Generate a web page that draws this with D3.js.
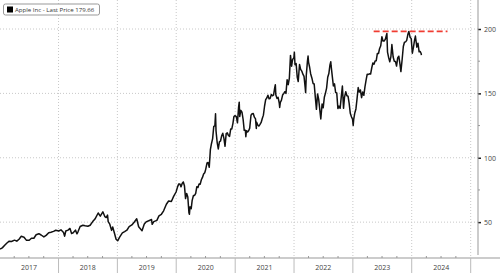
<!DOCTYPE html>
<html>
<head>
<meta charset="utf-8">
<script src="https://cdn.jsdelivr.net/npm/d3@7"></script>
<style>
  body { margin: 0; background: #fff; }
  svg { display: block; font-family: "Open Sans", sans-serif; }
</style>
</head>
<body>
<script>
// Data (split-adjusted closes)
const dates = [
  "2017-01-03","2017-01-17","2017-02-01","2017-02-15","2017-03-01","2017-03-15","2017-04-03","2017-04-17","2017-05-01","2017-05-15","2017-06-01","2017-06-15","2017-07-03","2017-07-17","2017-08-01","2017-08-15","2017-09-01","2017-09-15","2017-10-02","2017-10-16","2017-11-01","2017-11-15","2017-12-01","2017-12-15",
  "2018-01-02","2018-01-16","2018-02-01","2018-02-08","2018-02-15","2018-03-01","2018-03-13","2018-03-23","2018-04-02","2018-04-16","2018-04-25","2018-05-01","2018-05-15","2018-06-01","2018-06-15","2018-07-02","2018-07-16","2018-08-01","2018-08-15","2018-09-04","2018-09-17","2018-10-03","2018-10-15","2018-10-24","2018-11-01","2018-11-05","2018-11-15","2018-11-26","2018-12-03","2018-12-14","2018-12-24",
  "2019-01-03","2019-01-15","2019-02-01","2019-02-15","2019-03-01","2019-03-15","2019-04-01","2019-04-15","2019-05-01","2019-05-13","2019-06-03","2019-06-17","2019-07-01","2019-07-15","2019-08-01","2019-08-05","2019-08-15","2019-09-03","2019-09-16","2019-10-01","2019-10-15","2019-11-01","2019-11-15","2019-12-02","2019-12-16","2019-12-31",
  "2020-01-10","2020-01-17","2020-01-24","2020-01-31","2020-02-07","2020-02-14","2020-02-21","2020-02-28","2020-03-06","2020-03-13","2020-03-20","2020-03-23","2020-03-27","2020-04-03","2020-04-09","2020-04-17","2020-04-24","2020-05-01","2020-05-08","2020-05-15","2020-05-22","2020-05-29","2020-06-05","2020-06-12","2020-06-19","2020-06-26","2020-07-02","2020-07-10","2020-07-17","2020-07-24","2020-07-31","2020-08-07","2020-08-14","2020-08-21","2020-08-28","2020-09-01","2020-09-04","2020-09-11","2020-09-18","2020-09-25","2020-10-02","2020-10-09","2020-10-16","2020-10-23","2020-10-30","2020-11-06","2020-11-13","2020-11-20","2020-11-27","2020-12-04","2020-12-11","2020-12-18","2020-12-24","2020-12-31",
  "2021-01-08","2021-01-15","2021-01-22","2021-01-26","2021-01-29","2021-02-05","2021-02-12","2021-02-19","2021-02-26","2021-03-05","2021-03-08","2021-03-12","2021-03-19","2021-03-26","2021-04-01","2021-04-09","2021-04-16","2021-04-23","2021-04-30","2021-05-07","2021-05-12","2021-05-14","2021-05-21","2021-05-28","2021-06-04","2021-06-11","2021-06-18","2021-06-25","2021-07-02","2021-07-09","2021-07-16","2021-07-23","2021-07-30","2021-08-06","2021-08-13","2021-08-20","2021-08-27","2021-09-03","2021-09-07","2021-09-10","2021-09-17","2021-09-24","2021-10-01","2021-10-04","2021-10-08","2021-10-15","2021-10-22","2021-10-29","2021-11-05","2021-11-12","2021-11-19","2021-11-26","2021-12-03","2021-12-10","2021-12-17","2021-12-23","2021-12-31",
  "2022-01-03","2022-01-07","2022-01-14","2022-01-21","2022-01-27","2022-02-04","2022-02-11","2022-02-18","2022-02-25","2022-03-04","2022-03-11","2022-03-14","2022-03-18","2022-03-25","2022-03-29","2022-04-01","2022-04-08","2022-04-14","2022-04-22","2022-04-29","2022-05-06","2022-05-13","2022-05-20","2022-05-27","2022-06-03","2022-06-10","2022-06-16","2022-06-24","2022-07-01","2022-07-08","2022-07-15","2022-07-22","2022-07-29","2022-08-05","2022-08-12","2022-08-17","2022-08-19","2022-08-26","2022-09-02","2022-09-09","2022-09-16","2022-09-23","2022-09-30","2022-10-07","2022-10-14","2022-10-21","2022-10-28","2022-11-04","2022-11-10","2022-11-18","2022-11-25","2022-12-02","2022-12-09","2022-12-16","2022-12-23","2022-12-30",
  "2023-01-03","2023-01-06","2023-01-13","2023-01-20","2023-01-27","2023-02-03","2023-02-10","2023-02-17","2023-02-24","2023-03-03","2023-03-10","2023-03-17","2023-03-24","2023-03-31","2023-04-06","2023-04-14","2023-04-21","2023-04-28","2023-05-05","2023-05-12","2023-05-19","2023-05-26","2023-06-02","2023-06-09","2023-06-16","2023-06-23","2023-06-30","2023-07-07","2023-07-14","2023-07-21","2023-07-31","2023-08-04","2023-08-11","2023-08-18","2023-08-25","2023-08-31","2023-09-08","2023-09-15","2023-09-22","2023-09-29","2023-10-06","2023-10-13","2023-10-20","2023-10-26","2023-11-03","2023-11-10","2023-11-17","2023-11-24","2023-12-01","2023-12-08","2023-12-14","2023-12-22","2023-12-29",
  "2024-01-05","2024-01-12","2024-01-19","2024-01-24","2024-01-26","2024-02-02","2024-02-09","2024-02-16","2024-02-23","2024-02-29","2024-03-01"
];
const prices = [
  29.0,30.0,32.0,33.8,35.2,35.0,36.0,35.2,36.7,39.0,38.3,36.0,35.9,37.5,37.5,40.2,41.0,40.0,38.5,39.7,41.8,42.2,42.8,43.7,
  43.1,44.0,41.9,39.1,43.1,43.8,45.1,41.2,41.7,43.8,40.9,42.3,46.6,47.6,47.2,46.8,47.6,50.4,52.4,57.1,54.6,58.0,54.3,53.6,55.5,50.4,48.4,43.6,46.2,41.4,36.7,
  35.5,38.4,41.6,42.6,43.7,46.5,47.8,49.9,52.6,46.4,43.3,48.5,50.4,51.1,52.0,48.3,50.4,51.4,54.9,56.1,58.8,63.9,66.4,66.0,70.0,73.4,
  77.6,79.7,79.6,77.4,80.0,81.2,78.3,68.3,72.3,69.5,57.3,56.1,61.9,60.4,66.9,70.7,70.7,72.3,77.5,76.9,79.7,79.5,82.9,84.7,87.4,88.4,91.0,95.9,96.3,92.6,106.3,111.1,114.9,124.4,124.8,134.2,120.9,112.0,106.8,112.3,113.0,117.0,119.0,115.0,108.9,118.7,119.3,117.3,116.6,122.3,122.4,126.7,132.0,132.7,
  132.0,127.1,139.1,143.2,132.0,136.8,135.4,129.9,121.3,121.4,116.4,121.0,120.0,121.2,123.0,133.0,134.2,134.3,131.5,130.2,122.8,127.5,125.4,124.6,125.9,127.4,130.5,133.1,140.0,145.1,146.4,148.6,145.9,146.1,149.1,148.2,148.6,154.3,156.7,149.0,146.1,146.9,142.7,139.1,142.9,144.8,148.7,149.8,151.3,150.0,160.6,156.8,161.8,179.5,171.1,176.3,177.6,
  182.0,172.2,173.1,162.4,159.2,172.4,168.6,167.3,164.9,163.2,154.7,150.6,164.0,174.7,179.0,174.3,170.1,165.3,161.8,157.7,157.3,147.1,137.6,149.6,145.4,137.1,130.1,141.7,138.9,147.0,150.2,154.1,162.5,165.4,172.1,174.6,171.5,163.6,155.8,157.4,150.7,150.4,138.2,140.1,138.4,147.3,155.7,138.4,146.9,151.3,148.1,147.8,142.2,134.5,131.9,129.9,
  125.1,129.6,134.8,137.9,145.9,154.5,151.0,152.6,146.7,151.0,148.5,155.0,160.3,164.9,164.7,165.2,165.0,169.7,173.6,172.6,175.2,175.4,181.0,181.0,184.9,187.0,194.0,190.7,190.7,191.9,196.5,182.0,177.8,174.5,178.6,187.9,178.2,175.0,174.8,171.2,177.5,178.9,172.9,166.9,176.7,186.4,189.7,190.0,191.2,195.7,198.1,193.6,192.5,
  181.2,185.9,191.6,194.5,192.4,185.9,188.9,182.3,182.5,180.8,179.66
];
const yTicks = [50, 100, 150, 200];
const yMinor = [75, 125, 175];
const years = [2017, 2018, 2019, 2020, 2021, 2022, 2023, 2024];
const highLevel = 198.1;
const highSpan = ["2023-05-10", "2024-08-10"];
const legendLabel = "Apple Inc - Last Price 179.66";

const w = 500, h = 273;
const plotRight = 478, axisY = 258;
const parse = d3.timeParse("%Y-%m-%d");

const svg = d3.select("body").append("svg").attr("width", w).attr("height", h);

const x = d3.scaleTime()
  .domain([new Date(2017, 0, 1), new Date(2025, 0, 1)])
  .range([-0.3, 470.7]);
const y = d3.scaleLinear().domain([0, 200]).range([286.5, 29]);

// grid
svg.append("g").selectAll("line").data(years.slice(1).concat([2025])).join("line")
  .attr("x1", d => x(new Date(d, 0, 1))).attr("x2", d => x(new Date(d, 0, 1)))
  .attr("y1", 0).attr("y2", axisY)
  .attr("stroke", "#c8c8c8").attr("stroke-dasharray", "1,2");
svg.append("g").selectAll("line").data(yTicks).join("line")
  .attr("x1", 0).attr("x2", plotRight)
  .attr("y1", d => y(d)).attr("y2", d => y(d))
  .attr("stroke", "#c8c8c8").attr("stroke-dasharray", "1,2");

// bottom axis
svg.append("line").attr("x1", 0).attr("x2", w).attr("y1", axisY).attr("y2", axisY)
  .attr("stroke", "#999");
const quarters = d3.timeMonth.every(3).range(new Date(2017, 0, 1), new Date(2025, 0, 2));
svg.append("g").selectAll("line").data(quarters.filter(d => d.getMonth() !== 0)).join("line")
  .attr("x1", d => x(d)).attr("x2", d => x(d))
  .attr("y1", axisY - 2).attr("y2", axisY)
  .attr("stroke", "#999");
svg.append("g").selectAll("line").data(years.slice(1).concat([2025])).join("line")
  .attr("x1", d => x(new Date(d, 0, 1))).attr("x2", d => x(new Date(d, 0, 1)))
  .attr("y1", axisY).attr("y2", h)
  .attr("stroke", "#bbb");
svg.append("g").selectAll("text").data(years).join("text")
  .attr("x", d => x(new Date(d, 6, 2)))
  .attr("y", 270)
  .attr("text-anchor", "middle")
  .attr("font-size", 7)
  .attr("fill", "#444")
  .text(d => d);

// right axis
const yAxis = d3.axisRight(y).tickValues(yTicks).tickSize(3).tickPadding(3);
const ya = svg.append("g").attr("transform", `translate(${plotRight},0)`).call(yAxis);
ya.select(".domain").remove();
ya.selectAll(".tick line").attr("stroke", "#222").attr("stroke-width", 1.5);
ya.selectAll(".tick text").attr("font-size", 7).attr("fill", "#444")
  .attr("font-family", "Open Sans, sans-serif");
svg.append("line").attr("x1", plotRight).attr("x2", plotRight).attr("y1", 0).attr("y2", 255)
  .attr("stroke", "#999");
svg.append("g").selectAll("line").data(yMinor).join("line")
  .attr("x1", plotRight).attr("x2", plotRight + 2)
  .attr("y1", d => y(d)).attr("y2", d => y(d))
  .attr("stroke", "#999");

// high level
svg.append("line")
  .attr("x1", x(parse(highSpan[0]))).attr("x2", x(parse(highSpan[1])))
  .attr("y1", y(highLevel)).attr("y2", y(highLevel))
  .attr("stroke", "#f03c32").attr("stroke-width", 1.8)
  .attr("stroke-dasharray", "6,3");

// price line
const series = dates.map((d, i) => ({ date: parse(d), value: prices[i] }));
svg.append("path").datum(series)
  .attr("fill", "none").attr("stroke", "#111").attr("stroke-width", 1.5)
  .attr("stroke-linejoin", "round")
  .attr("d", d3.line().x(d => x(d.date)).y(d => y(d.value)));

// legend
svg.append("rect").attr("x", 3.5).attr("y", 4).attr("width", 96).attr("height", 11)
  .attr("rx", 2).attr("fill", "#fff").attr("stroke", "#999");
svg.append("rect").attr("x", 7).attr("y", 6.5).attr("width", 6).attr("height", 6).attr("fill", "#000");
svg.append("text").attr("x", 15).attr("y", 12.3).attr("font-size", 6.1).attr("fill", "#333")
  .text(legendLabel);
</script>
</body>
</html>
